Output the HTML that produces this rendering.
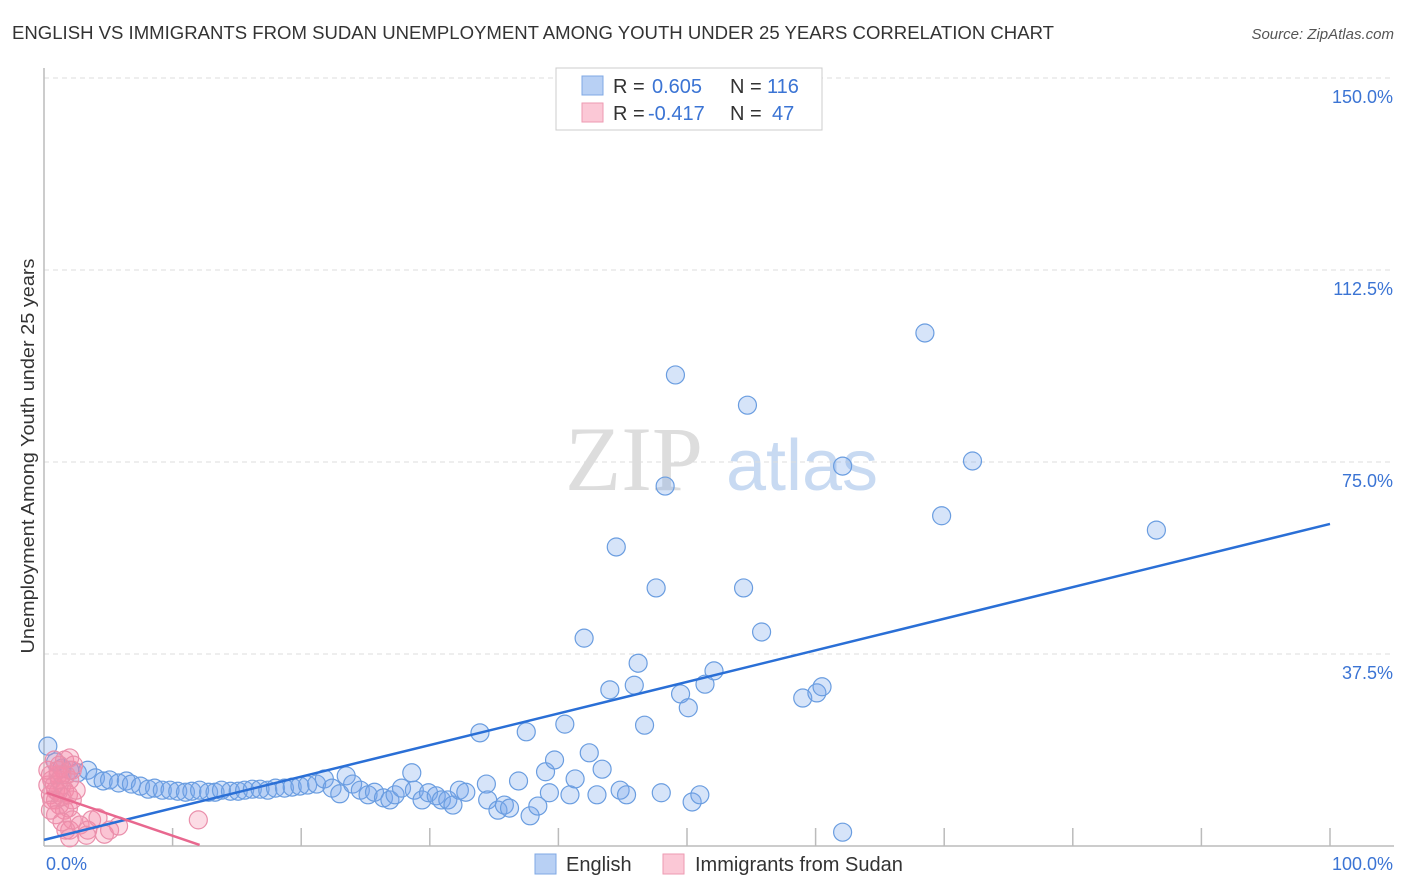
<!DOCTYPE html>
<html><head><meta charset="utf-8">
<style>
body{margin:0;background:#fff;font-family:"Liberation Sans",sans-serif;}
#wrap{position:relative;width:1406px;height:892px;overflow:hidden;}
</style></head>
<body>
<div id="wrap">
<svg id="svg" width="1406" height="892" xmlns="http://www.w3.org/2000/svg">
<text x="12" y="39" font-size="18" fill="#333" textLength="1042" lengthAdjust="spacingAndGlyphs">ENGLISH VS IMMIGRANTS FROM SUDAN UNEMPLOYMENT AMONG YOUTH UNDER 25 YEARS CORRELATION CHART</text>
<text x="1394" y="39" font-size="15" fill="#555" font-style="italic" text-anchor="end">Source: ZipAtlas.com</text>
<text x="34" y="456" font-size="18" fill="#333" text-anchor="middle" textLength="395" lengthAdjust="spacingAndGlyphs" transform="rotate(-90 34 456)">Unemployment Among Youth under 25 years</text>
<g>
<text x="634" y="490" font-size="92" fill="#ddd" font-family="Liberation Serif,serif" text-anchor="middle">ZIP</text>
<text x="802" y="490" font-size="72" fill="#c8daf2" text-anchor="middle">atlas</text>
</g>
<g id="grid"></g>
<g id="ticks"></g>
<g id="pts"></g>
<g id="lines"></g>
<g>
<rect x="556" y="68" width="266" height="62" fill="#fff" stroke="#ccc"/>
<rect x="582" y="76" width="21" height="19" fill="#b8d0f4" stroke="#7fa8e4"/>
<rect x="582" y="103" width="21" height="19" fill="#fbc8d6" stroke="#ee9ab2"/>
<text x="613" y="93" font-size="20" fill="#333">R = </text>
<text x="652" y="93" font-size="20" fill="#3b74d4">0.605</text>
<text x="730" y="93" font-size="20" fill="#333">N = </text>
<text x="767" y="93" font-size="20" fill="#3b74d4">116</text>
<text x="613" y="120" font-size="20" fill="#333">R = </text>
<text x="648" y="120" font-size="20" fill="#3b74d4">-0.417</text>
<text x="730" y="120" font-size="20" fill="#333">N = </text>
<text x="772" y="120" font-size="20" fill="#3b74d4">47</text>
</g>
<g>
<rect x="535" y="854" width="21" height="20" fill="#b8d0f4" stroke="#7fa8e4"/>
<text x="566" y="871" font-size="20" fill="#333">English</text>
<rect x="663" y="854" width="21" height="20" fill="#fbc8d6" stroke="#ee9ab2"/>
<text x="695" y="871" font-size="20" fill="#333">Immigrants from Sudan</text>
</g>
</svg>
</div>
<script>
const yTicks=[37.5,75,112.5,150];
const yTickLabels=["37.5%","75.0%","112.5%","150.0%"];
const xTickCount=10;
const englishX=[0.3,0.9,1.4,2.0,2.6,3.4,4.0,4.6,5.1,5.8,6.4,6.8,7.5,8.1,8.6,9.2,9.8,10.4,11.0,11.5,12.1,12.8,13.3,13.8,14.5,15.1,15.6,16.2,16.8,17.4,18.0,18.7,19.3,19.9,20.5,21.2,21.8,22.4,23.0,23.5,24.0,24.6,25.2,25.7,26.4,26.9,27.3,27.8,28.6,28.8,29.4,29.9,30.5,30.9,31.4,31.8,32.3,32.8,33.9,34.4,34.5,35.3,35.8,36.2,36.9,37.5,37.8,38.4,39.0,39.3,39.7,40.5,40.9,41.3,42.0,42.4,43.0,43.4,44.0,44.5,44.8,45.3,45.9,46.2,46.7,47.6,48.0,48.3,49.1,49.5,50.1,50.4,51.0,51.4,52.1,54.4,54.7,55.8,59.0,60.1,60.5,62.1,62.1,68.5,69.8,72.2,86.5];
const englishY=[19.5,16.4,15.2,14.8,14.3,14.8,13.3,12.7,12.9,12.3,12.7,12.1,11.7,11.1,11.3,10.9,10.9,10.7,10.5,10.7,10.9,10.5,10.5,10.9,10.7,10.7,10.9,11.1,11.1,10.9,11.3,11.3,11.5,11.7,11.9,12.1,13.1,11.3,10.2,13.7,12.1,10.9,10.0,10.5,9.4,9.0,10.0,11.3,14.3,10.9,9.0,10.4,9.8,9.0,9.0,8.0,10.9,10.5,22.1,12.1,9.0,7.0,8.0,7.4,12.7,22.3,5.9,7.8,14.5,10.4,16.8,23.8,10.0,13.1,40.6,18.2,10.0,15.0,30.5,58.4,10.9,10.0,31.4,35.7,23.6,50.4,10.4,70.3,92.0,29.7,27.0,8.6,10.0,31.6,34.2,50.4,86.1,41.8,28.9,29.9,31.1,74.2,2.7,100.2,64.5,75.2,61.7];
const sudanX=[0.3,0.6,0.9,0.5,1.1,1.4,1.6,2.0,2.2,0.9,1.2,1.6,1.9,0.8,1.2,1.7,0.3,0.6,1.1,1.4,2.0,2.3,0.5,0.9,1.4,2.0,2.2,1.7,2.8,3.4,3.7,4.2,4.7,5.1,5.8,12.0,2.0,3.3,0.5,0.8,1.2,1.6,1.9,2.2,2.5,1.1,1.4];
const sudanY=[14.8,12.9,10.9,10.0,13.9,11.9,16.8,17.2,14.8,9.0,8.0,7.0,7.4,16.8,15.8,13.9,11.9,9.0,10.5,9.6,12.9,15.8,7.0,6.1,4.7,3.1,5.1,3.1,4.1,3.1,5.1,5.5,2.3,3.1,3.9,5.1,1.6,2.1,13.9,11.9,12.9,10.9,10.0,9.0,10.9,14.8,13.9];
const englishTrend=[[0,1.2],[100,62.9]];
const sudanTrend=[[0.2,10.4],[12.1,0.2]];
const X0=44,X1=1330,Y0=846,YPX=192/37.5;
const sx=v=>X0+(X1-X0)*v/100, sy=v=>Y0-v*YPX;
const NS="http://www.w3.org/2000/svg";
function mk(t,a,p){const e=document.createElementNS(NS,t);for(const k in a)e.setAttribute(k,a[k]);p.appendChild(e);return e;}
const grid=document.getElementById('grid');
yTicks.forEach((t,i)=>{
  const l=mk('line',{x1:X0,x2:1394,y1:sy(t),y2:sy(t),stroke:'#ddd','stroke-dasharray':'5,4'},grid);
  
  
  const tx=mk('text',{x:1393,y:sy(t)+25,'font-size':18,fill:'#3b74d4','text-anchor':'end'},grid);
  tx.textContent=yTickLabels[i];
  
  
});
const tk=document.getElementById('ticks');
const ax=mk('line',{x1:X0,x2:X0,y1:68,y2:Y0,stroke:'#bbb','stroke-width':1.5},tk);


const bx=mk('line',{x1:X0,x2:X1+64,y1:Y0,y2:Y0,stroke:'#bbb','stroke-width':1.5},tk);


for(let i=1;i<=xTickCount;i++){
  const t=mk('line',{x1:sx(i*10),x2:sx(i*10),y1:828,y2:Y0,stroke:'#bbb','stroke-width':1.5},tk);
  
  
}
const xl0=mk('text',{x:46,y:870,'font-size':18,fill:'#3b74d4'},tk);xl0.textContent='0.0%';


const xl1=mk('text',{x:1393,y:870,'font-size':18,fill:'#3b74d4','text-anchor':'end'},tk);xl1.textContent='100.0%';


const pts=document.getElementById('pts');
englishX.forEach((x,i)=>{
  const c=mk('circle',{cx:sx(x),cy:sy(englishY[i]),r:9,fill:'rgba(120,165,235,0.3)',stroke:'#6a9de0','stroke-width':1.2},pts);
  
  
});
sudanX.forEach((x,i)=>{
  const c=mk('circle',{cx:sx(x),cy:sy(sudanY[i]),r:9,fill:'rgba(245,140,170,0.3)',stroke:'#ea8fab','stroke-width':1.2},pts);
  
  
});
const ln=document.getElementById('lines');
const l1=mk('line',{x1:sx(englishTrend[0][0]),y1:sy(englishTrend[0][1]),x2:sx(englishTrend[1][0]),y2:sy(englishTrend[1][1]),stroke:'#2a6fd6','stroke-width':2.5},ln);


const l2=mk('line',{x1:sx(sudanTrend[0][0]),y1:sy(sudanTrend[0][1]),x2:sx(sudanTrend[1][0]),y2:sy(sudanTrend[1][1]),stroke:'#e8688f','stroke-width':2.5},ln);


</script>
</body></html>
